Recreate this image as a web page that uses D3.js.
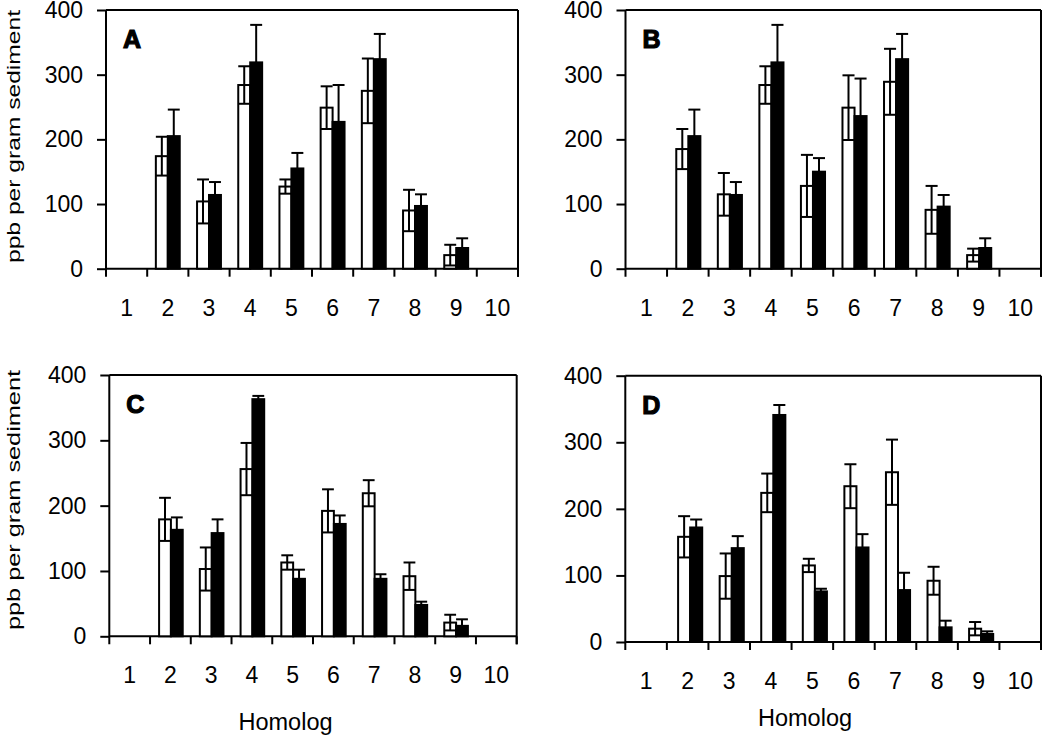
<!DOCTYPE html>
<html><head><meta charset="utf-8">
<script src="https://cdn.jsdelivr.net/npm/d3@7"></script>
<style>
body{margin:0;background:#fff}
svg{display:block}
text{font-family:"Liberation Sans",Arial,sans-serif;fill:#000}
</style>
</head><body>
<svg id="c" width="1050" height="738"></svg>
<script>
// ---------- data ----------
const categories = ["1","2","3","4","5","6","7","8","9","10"];
const yTicks = [0,100,200,300,400];
const panelLabels = ["A","B","C","D"];
const yTitle = "ppb per gram sediment";
const xTitle = "Homolog";

const openA      = [null,174,104,284,127,249,275, 90,21,null];
const openErrA   = [null, 30, 34, 29, 11, 33, 50, 32,16,null];
const filledA    = [null,205,114,319,155,227,324, 97,32,null];
const filledErrA = [null, 41, 20, 58, 24, 57, 39, 18,15,null];

const openB      = [null,185,115,284,128,249,289, 91,21,null];
const openErrB   = [null, 31, 33, 29, 48, 50, 51, 37,10,null];
const filledB    = [null,205,114,319,150,236,324, 96,32,null];
const filledErrB = [null, 41, 20, 58, 21, 58, 39, 18,15,null];

const openC      = [null,179,103,256,113,192,219, 92,21,null];
const openErrC   = [null, 33, 33, 40, 11, 33, 20, 21,12,null];
const filledC    = [null,163,158,363, 88,172, 88, 48,16,null];
const filledErrC = [null, 19, 21,  5, 14, 13,  7,  5,10,null];

const openD      = [null,158, 99,224,115,234,255, 92,20,null];
const openErrD   = [null, 31, 34, 29, 10, 33, 49, 21,10,null];
const filledD    = [null,172,141,341, 76,142, 78, 22,12,null];
const filledErrD = [null, 12, 18, 15,  4, 20, 26, 10, 4,null];

const panelData = [
  {open:openA, openErr:openErrA, filled:filledA, filledErr:filledErrA},
  {open:openB, openErr:openErrB, filled:filledB, filledErr:filledErrB},
  {open:openC, openErr:openErrC, filled:filledC, filledErr:filledErrC},
  {open:openD, openErr:openErrD, filled:filledD, filledErr:filledErrD}
];

// ---------- layout ----------
const layouts = [
  {l:106,   r:518,   t:10,    b:268.7, shift:0,   yTitle:{x:19.5, cy:136.5, len:253}},
  {l:625.5, r:1041,  t:10,    b:268.7, shift:0.5},
  {l:109.3, r:516.7, t:375,   b:636.3, shift:0.5, yTitle:{x:19.5, cy:500, len:260}, xTitle:{x:285.5, y:730}},
  {l:625.3, r:1041,  t:375.7, b:642,   shift:2.5, xTitle:{x:805, y:726}}
];

const svg = d3.select("#c");
const SW = 2;

panelData.forEach((pd, i) => {
  const L = layouts[i];
  const x = d3.scaleBand().domain(categories).range([L.l, L.r]).padding(0);
  const y = d3.scaleLinear().domain([0,400]).range([L.b, L.t]);
  const bw = x.bandwidth() * 0.29;
  const g = svg.append("g");

  // frame: top + right
  g.append("line").attr("x1", L.l).attr("x2", L.r).attr("y1", y(400)).attr("y2", y(400))
    .attr("stroke","#000").attr("stroke-width",SW);
  g.append("line").attr("x1", L.r).attr("x2", L.r).attr("y1", y(400)).attr("y2", L.b + 8)
    .attr("stroke","#000").attr("stroke-width",SW);

  // y axis
  const ya = g.append("g").attr("transform", `translate(${L.l},0)`)
    .call(d3.axisLeft(y).tickValues(yTicks).tickSize(9).tickSizeOuter(0).tickPadding(14).tickFormat(d3.format("d")));
  ya.select(".domain").remove();
  ya.selectAll("line").attr("stroke","#000").attr("stroke-width",SW);
  ya.selectAll("text").attr("font-size",23).attr("font-family",'"Liberation Sans",Arial,sans-serif').attr("fill","#000");
  g.append("line").attr("x1", L.l).attr("x2", L.l).attr("y1", y(400)).attr("y2", L.b + 8)
    .attr("stroke","#000").attr("stroke-width",SW);

  // x axis (labels centered in bands, ticks at band edges)
  const xa = g.append("g").attr("transform", `translate(0,${L.b})`)
    .call(d3.axisBottom(x).tickSize(0).tickSizeOuter(0));
  xa.select(".domain").remove();
  xa.selectAll("text").attr("y", 47).attr("dy", 0).attr("font-size",23)
    .attr("font-family",'"Liberation Sans",Arial,sans-serif').attr("fill","#000");
  g.append("line").attr("x1", L.l).attr("x2", L.r).attr("y1", L.b).attr("y2", L.b)
    .attr("stroke","#000").attr("stroke-width",SW);
  g.selectAll(".xt").data(categories).enter().append("line")
    .attr("x1", d => x(d) + x.bandwidth()).attr("x2", d => x(d) + x.bandwidth())
    .attr("y1", L.b).attr("y2", L.b + 8).attr("stroke","#000").attr("stroke-width",SW);

  const cx = d => x(d) + x.bandwidth()/2 + L.shift;

  const openPts = categories.map((c,k) => ({c, v:pd.open[k], e:pd.openErr[k]})).filter(d => d.v != null);
  const filledPts = categories.map((c,k) => ({c, v:pd.filled[k], e:pd.filledErr[k]})).filter(d => d.v != null);

  // bars
  g.selectAll(".ob").data(openPts).enter().append("rect")
    .attr("x", d => cx(d.c) - bw).attr("width", bw)
    .attr("y", d => y(d.v)).attr("height", d => y(0) - y(d.v))
    .attr("fill","#fff").attr("stroke","#000").attr("stroke-width",SW);
  g.selectAll(".fb").data(filledPts).enter().append("rect")
    .attr("x", d => cx(d.c)).attr("width", bw)
    .attr("y", d => y(d.v)).attr("height", d => y(0) - y(d.v))
    .attr("fill","#000").attr("stroke","#000").attr("stroke-width",SW);

  // error bars
  const drawErr = (pts, off) => {
    pts.forEach(d => {
      const xc = cx(d.c) + off;
      const hi = y(d.v + d.e), lo = y(Math.max(0, d.v - d.e));
      const cap = bw/2;
      g.append("line").attr("x1",xc).attr("x2",xc).attr("y1",hi).attr("y2",lo)
        .attr("stroke","#000").attr("stroke-width",SW);
      g.append("line").attr("x1",xc-cap).attr("x2",xc+cap).attr("y1",hi).attr("y2",hi)
        .attr("stroke","#000").attr("stroke-width",SW);
      g.append("line").attr("x1",xc-cap).attr("x2",xc+cap).attr("y1",lo).attr("y2",lo)
        .attr("stroke","#000").attr("stroke-width",SW);
    });
  };
  drawErr(openPts, -bw/2);
  drawErr(filledPts, bw/2);

  // panel label
  g.append("text").attr("x", L.l + 17).attr("y", L.t + 38)
    .attr("font-size", 25).attr("font-weight","bold")
    .attr("stroke","#000").attr("stroke-width",1.2)
    .text(panelLabels[i]);

  if (L.yTitle) {
    g.append("text").attr("transform", `translate(${L.yTitle.x},${L.yTitle.cy}) rotate(-90)`)
      .attr("text-anchor","middle").attr("font-size",18)
      .attr("textLength", L.yTitle.len).attr("lengthAdjust","spacingAndGlyphs")
      .text(yTitle);
  }
  if (L.xTitle) {
    g.append("text").attr("x", L.xTitle.x).attr("y", L.xTitle.y)
      .attr("text-anchor","middle").attr("font-size",23.5).text(xTitle);
  }
});
</script>
</body></html>
